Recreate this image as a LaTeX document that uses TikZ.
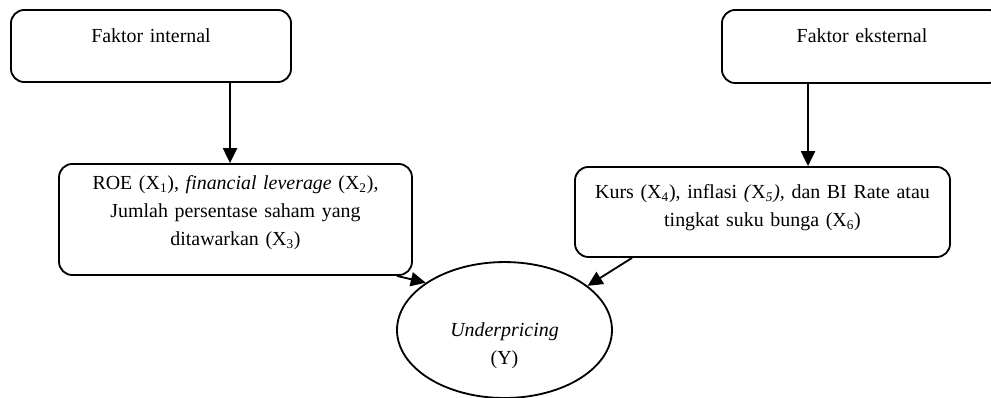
\documentclass[tikz,border=0pt]{standalone}
\usepackage{fontspec}
\setmainfont{Liberation Serif}
\usetikzlibrary{arrows.meta,shapes.geometric}

\begin{document}
\begin{tikzpicture}[>={Triangle[length=9pt,width=8.5pt]}, line width=1.1pt,
  faktor/.style={draw, rounded corners=8pt, align=center, inner xsep=0pt,
    inner ysep=0pt, font=\fontsize{12pt}{17pt}\selectfont},
  hasil/.style={draw, ellipse, align=center, inner sep=0pt,
    minimum width=129.5pt, minimum height=81.9pt, text width=80pt,
    text height=20pt, text depth=12.8pt, font=\fontsize{12pt}{17pt}\selectfont}]
  \useasboundingbox (0,0) rectangle (20.981,-8.426);
  % Faktor internal dan eksternal
  \node[faktor, text width=168.7pt, text height=19.7pt, text depth=23.7pt]
    (internal) at (3.197,-0.974) {Faktor internal};
  \node[faktor, text width=168.7pt, text height=19.7pt, text depth=24.3pt]
    (eksternal) at (18.250,-0.984) {Faktor eksternal};
  % Variabel independen
  \node[faktor, text width=212.6pt, text height=15.1pt, text depth=51.8pt]
    (varint) at (4.986,-4.647)
    {ROE (X\textsubscript{1}), \textit{financial leverage} (X\textsubscript{2}),\\
     Jumlah persentase saham yang\\
     ditawarkan (X\textsubscript{3})};
  \node[faktor, text width=225.9pt, text height=18.7pt, text depth=35.5pt]
    (varext) at (16.144,-4.488)
    {Kurs (X\textsubscript{4}), inflasi \textit{(}X\textsubscript{\textit{5}}\textit{),} dan BI Rate atau\\
     tingkat suku bunga (X\textsubscript{6})};
  % Variabel dependen
  \node[hasil] (under) at (10.681,-6.987) {\textit{Underpricing}\\(Y)};

  \draw[->] ([xshift=47.6pt]internal.south) -- ([xshift=-3.3pt]varint.north);
  \draw[->] ([xshift=-32.5pt]eksternal.south) -- ([xshift=27.4pt]varext.north);
  \draw[->] ([xshift=97.3pt]varint.south) -- (under.149);
  \draw[->] ([xshift=-78.6pt]varext.south) -- (under.28);
\end{tikzpicture}
\end{document}
